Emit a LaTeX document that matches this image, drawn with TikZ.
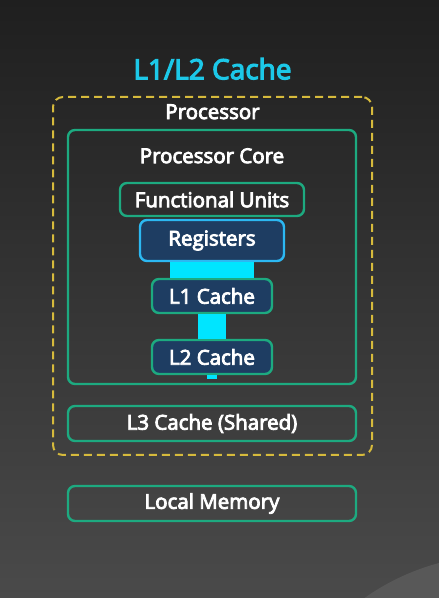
\documentclass[tikz,border=0pt]{standalone}
\usepackage{fontspec}
\newfontfamily\boxfont{Open Sans}[FakeBold=4]
\usetikzlibrary{positioning,calc}
\definecolor{bgtop}{HTML}{1F1F1F}
\definecolor{bgmid}{HTML}{262626}
\definecolor{bgbot}{HTML}{4A4A4A}
\definecolor{swoosh}{HTML}{585858}
\definecolor{coregreen}{HTML}{1DAA80}
\definecolor{dashyellow}{HTML}{D6BA3C}
\definecolor{titlecyan}{HTML}{1CC8E8}
\definecolor{regcyan}{HTML}{2CB8F2}
\definecolor{cacheblue}{HTML}{1E3D62}
\definecolor{linkcyan}{HTML}{00E5FF}
\tikzset{box/.style={draw=coregreen,line width=2.4pt,rounded corners=7pt,text=white,
		font=\boxfont\fontsize{20.5}{22}\selectfont,inner sep=0pt,outer sep=1.2pt},
	cachebox/.style={box,fill=cacheblue,minimum width=120pt,minimum height=34pt},
	link/.style={draw=linkcyan}}

\begin{document}
\begin{tikzpicture}[x=1pt,y=1pt]
\useasboundingbox (0,0) rectangle (439,598);
\shade[top color=bgtop,middle color=bgmid,bottom color=bgbot] (0,0) rectangle (439,598);
\begin{scope}
	\clip (0,0) rectangle (439,598);
	\fill[swoosh] (500,-192) circle (235);
\end{scope}

\node[box,draw=dashyellow,dashed,dash pattern=on 8pt off 5pt,line width=2pt,rounded corners=10pt,
	minimum width=319pt,minimum height=358pt] (proc) at (212.5,322) {};
\node[text=white,font=\boxfont\fontsize{20.5}{22}\selectfont] (proctext) at ($(proc.north)+(0,-16)$) {Processor};
\node[text=titlecyan,font=\boxfont\fontsize{28}{30}\selectfont] (title) at ($(proc.north)+(0,27)$) {L1/L2 Cache};

\node[box,minimum width=288pt,minimum height=254pt] (core) at (212,341) {};
\node[text=white,font=\boxfont\fontsize{20.5}{22}\selectfont] (coretext) at ($(core.north)+(0,-27)$) {Processor Core};

\node[box,minimum width=184pt,minimum height=33pt] (fu) at (212,398.5) {Functional Units};
\node[box,draw=regcyan,fill=cacheblue,minimum width=144pt,minimum height=41pt] (reg) at (212,357.5) {Registers};
\node[cachebox] (l1) at (212,302) {L1 Cache};
\node[cachebox] (l2) at (212,241) {L2 Cache};
\coordinate (l2end) at (212,219);

\draw[link,line width=84pt] (reg.south) -- (l1.north);
\draw[link,line width=28pt] (l1.south) -- (l2.north);
\draw[link,line width=10pt] (l2.south) -- (l2end);

\node[box,minimum width=288pt,minimum height=35pt] (l3) at (212,174.5) {L3 Cache (Shared)};
\node[box,minimum width=288pt,minimum height=35pt] (mem) at (212,94.5) {Local Memory};
\end{tikzpicture}
\end{document}
